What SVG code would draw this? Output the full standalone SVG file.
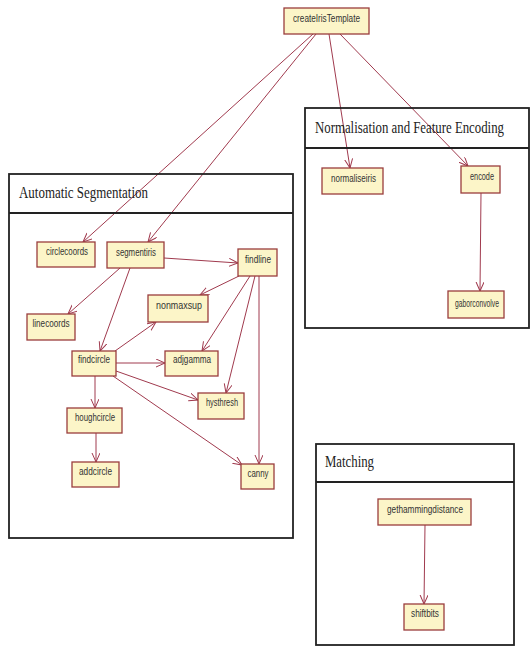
<svg xmlns="http://www.w3.org/2000/svg" width="531" height="646" viewBox="0 0 531 646">
<style>
.panel{fill:none;stroke:#222;stroke-width:1.8}
.sep{stroke:#222;stroke-width:1.8}
.ptitle{font-family:"Liberation Serif","Times New Roman",serif;font-size:16px;fill:#222}
.box{fill:#fcf5c8;stroke:#9a3d3d;stroke-width:1.3}
.lbl{font-family:"Liberation Sans",Arial,sans-serif;font-size:11.5px;fill:#333;text-anchor:middle}
.edge{fill:none;stroke:#a03a4e;stroke-width:1}
</style>
<defs>
<marker id="arr" markerUnits="userSpaceOnUse" markerWidth="12" markerHeight="10" refX="9" refY="4" orient="auto">
<path d="M0,0 L9,4 L0,8" fill="none" stroke="#a03a4e" stroke-width="1"/>
</marker>
</defs>
<rect width="531" height="646" fill="#fff"/>

<g id="connectors">
<line class="edge" x1="313" y1="34" x2="83" y2="242" marker-end="url(#arr)"/>
<line class="edge" x1="316" y1="34" x2="148" y2="242" marker-end="url(#arr)"/>
<line class="edge" x1="329" y1="34" x2="350" y2="168" marker-end="url(#arr)"/>
<line class="edge" x1="340" y1="34" x2="468" y2="166" marker-end="url(#arr)"/>
<line class="edge" x1="481" y1="193" x2="480" y2="291" marker-end="url(#arr)"/>
<line class="edge" x1="164" y1="258" x2="238" y2="263" marker-end="url(#arr)"/>
<line class="edge" x1="120" y1="268" x2="68" y2="314" marker-end="url(#arr)"/>
<line class="edge" x1="130" y1="268" x2="100" y2="351" marker-end="url(#arr)"/>
<line class="edge" x1="239" y1="276" x2="200" y2="295" marker-end="url(#arr)"/>
<line class="edge" x1="250" y1="276" x2="202" y2="351" marker-end="url(#arr)"/>
<line class="edge" x1="255" y1="276" x2="226" y2="393" marker-end="url(#arr)"/>
<line class="edge" x1="259" y1="276" x2="259" y2="464" marker-end="url(#arr)"/>
<line class="edge" x1="115" y1="351" x2="156" y2="322" marker-end="url(#arr)"/>
<line class="edge" x1="116" y1="363" x2="165" y2="363" marker-end="url(#arr)"/>
<line class="edge" x1="116" y1="371" x2="198" y2="400" marker-end="url(#arr)"/>
<line class="edge" x1="113" y1="376" x2="242" y2="465" marker-end="url(#arr)"/>
<line class="edge" x1="95" y1="376" x2="95" y2="408" marker-end="url(#arr)"/>
<line class="edge" x1="96" y1="433" x2="96" y2="462" marker-end="url(#arr)"/>
<line class="edge" x1="425" y1="525" x2="424" y2="604" marker-end="url(#arr)"/>
</g>

<g id="panel-normalisation">
<rect class="panel" x="305" y="108" width="224" height="220"/>
<line class="sep" x1="305" y1="148" x2="529" y2="148"/>
<text class="ptitle" x="315" y="133" textLength="189" lengthAdjust="spacingAndGlyphs">Normalisation and Feature Encoding</text>
</g>
<g id="panel-segmentation">
<rect class="panel" x="9" y="174" width="284" height="364"/>
<line class="sep" x1="9" y1="213" x2="293" y2="213"/>
<text class="ptitle" x="19" y="198" textLength="129" lengthAdjust="spacingAndGlyphs">Automatic Segmentation</text>
</g>
<g id="panel-matching">
<rect class="panel" x="316" y="444" width="198" height="201"/>
<line class="sep" x1="316" y1="482" x2="514" y2="482"/>
<text class="ptitle" x="325" y="467" textLength="49" lengthAdjust="spacingAndGlyphs">Matching</text>
</g>

<g id="createIrisTemplate"><rect class="box" x="284" y="8" width="85" height="26"/><text class="lbl" x="326.5" y="22" textLength="67" lengthAdjust="spacingAndGlyphs">createIrisTemplate</text></g>
<g id="normaliseiris"><rect class="box" x="322" y="168" width="61" height="26"/><text class="lbl" x="353.5" y="182" textLength="45" lengthAdjust="spacingAndGlyphs">normaliseiris</text></g>
<g id="encode"><rect class="box" x="461" y="166" width="39" height="27"/><text class="lbl" x="482" y="180" textLength="24" lengthAdjust="spacingAndGlyphs">encode</text></g>
<g id="gaborconvolve"><rect class="box" x="448" y="291" width="56" height="27"/><text class="lbl" x="477" y="307" textLength="44" lengthAdjust="spacingAndGlyphs">gaborconvolve</text></g>
<g id="circlecoords"><rect class="box" x="37" y="242" width="58" height="25"/><text class="lbl" x="67" y="255" textLength="42" lengthAdjust="spacingAndGlyphs">circlecoords</text></g>
<g id="segmentiris"><rect class="box" x="107" y="242" width="57" height="26"/><text class="lbl" x="136" y="256" textLength="40" lengthAdjust="spacingAndGlyphs">segmentiris</text></g>
<g id="findline"><rect class="box" x="238" y="249" width="39" height="27"/><text class="lbl" x="258" y="263" textLength="26" lengthAdjust="spacingAndGlyphs">findline</text></g>
<g id="nonmaxsup"><rect class="box" x="148" y="295" width="60" height="27"/><text class="lbl" x="179" y="309" textLength="46" lengthAdjust="spacingAndGlyphs">nonmaxsup</text></g>
<g id="linecoords"><rect class="box" x="27" y="314" width="48" height="26"/><text class="lbl" x="51" y="327" textLength="37" lengthAdjust="spacingAndGlyphs">linecoords</text></g>
<g id="findcircle"><rect class="box" x="72" y="351" width="44" height="25"/><text class="lbl" x="94" y="363" textLength="32" lengthAdjust="spacingAndGlyphs">findcircle</text></g>
<g id="adjgamma"><rect class="box" x="165" y="351" width="53" height="25"/><text class="lbl" x="192" y="363" textLength="38" lengthAdjust="spacingAndGlyphs">adjgamma</text></g>
<g id="hysthresh"><rect class="box" x="198" y="393" width="46" height="26"/><text class="lbl" x="222" y="406" textLength="32" lengthAdjust="spacingAndGlyphs">hysthresh</text></g>
<g id="houghcircle"><rect class="box" x="67" y="408" width="55" height="25"/><text class="lbl" x="95" y="421" textLength="40" lengthAdjust="spacingAndGlyphs">houghcircle</text></g>
<g id="addcircle"><rect class="box" x="72" y="462" width="47" height="25"/><text class="lbl" x="95.5" y="475" textLength="33" lengthAdjust="spacingAndGlyphs">addcircle</text></g>
<g id="canny"><rect class="box" x="241" y="464" width="33" height="25"/><text class="lbl" x="258" y="477" textLength="21" lengthAdjust="spacingAndGlyphs">canny</text></g>
<g id="gethammingdistance"><rect class="box" x="378" y="499" width="93" height="26"/><text class="lbl" x="425" y="513" textLength="76" lengthAdjust="spacingAndGlyphs">gethammingdistance</text></g>
<g id="shiftbits"><rect class="box" x="404" y="604" width="40" height="26"/><text class="lbl" x="425" y="617" textLength="28" lengthAdjust="spacingAndGlyphs">shiftbits</text></g>
</svg>
